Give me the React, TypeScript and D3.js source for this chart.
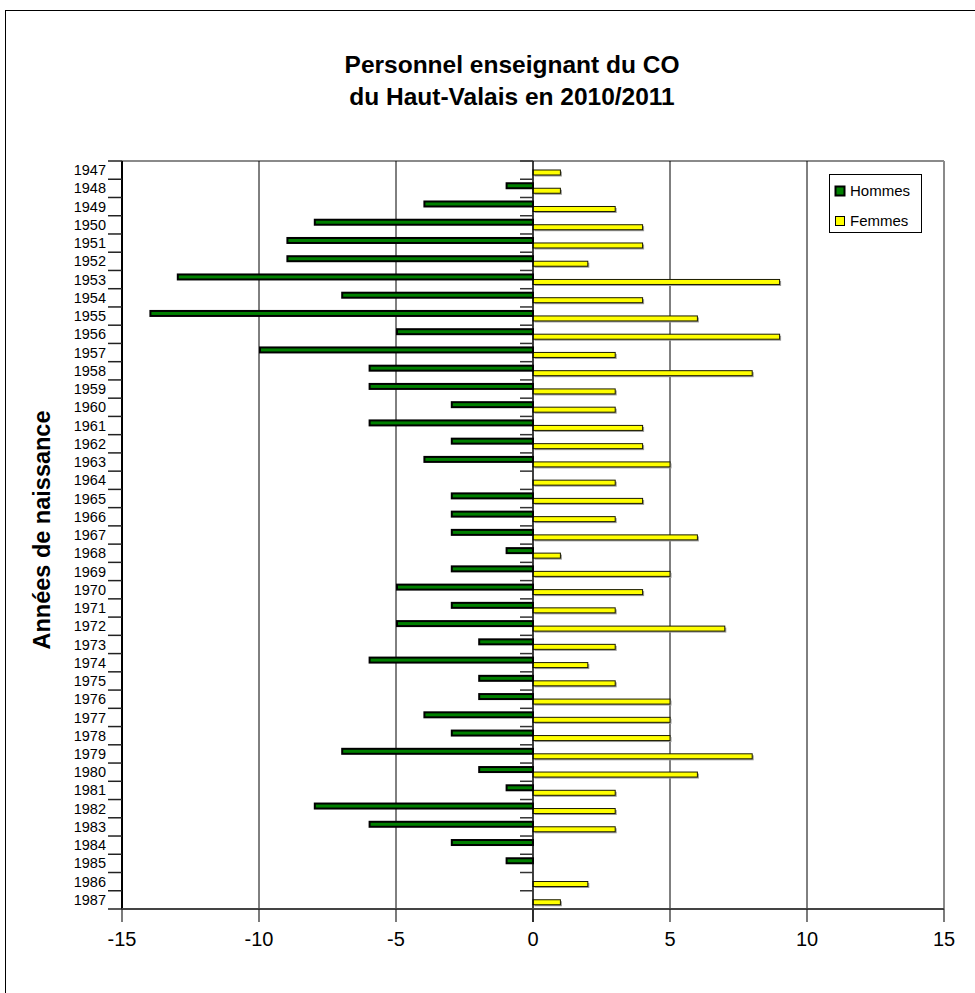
import React from "react";
import * as d3 from "d3";

const years: string[] = [
  "1947","1948","1949","1950","1951","1952","1953","1954","1955","1956",
  "1957","1958","1959","1960","1961","1962","1963","1964","1965","1966",
  "1967","1968","1969","1970","1971","1972","1973","1974","1975","1976",
  "1977","1978","1979","1980","1981","1982","1983","1984","1985","1986","1987",
];

const hommes: number[] = [
  0, -1, -4, -8, -9, -9, -13, -7, -14, -5,
  -10, -6, -6, -3, -6, -3, -4, 0, -3, -3,
  -3, -1, -3, -5, -3, -5, -2, -6, -2, -2,
  -4, -3, -7, -2, -1, -8, -6, -3, -1, 0, 0,
];

const femmes: number[] = [
  1, 1, 3, 4, 4, 2, 9, 4, 6, 9,
  3, 8, 3, 3, 4, 4, 5, 3, 4, 3,
  6, 1, 5, 4, 3, 7, 3, 2, 3, 5,
  5, 5, 8, 6, 3, 3, 3, 0, 0, 2, 1,
];

const xTicks: number[] = [-15, -10, -5, 0, 5, 10, 15];
const titleLines: string[] = ["Personnel enseignant du CO", "du Haut-Valais en 2010/2011"];
const seriesNames: string[] = ["Hommes", "Femmes"];
const seriesColors: string[] = ["#008000", "#FFFF00"];

export default function App() {
  const W = 975;
  const H = 993;
  const left = 122;
  const right = 944;
  const top = 161;
  const bottom = 909;
  const font = "Arial, 'Liberation Sans', Helvetica, sans-serif";

  const x = d3.scaleLinear().domain([-15, 15]).range([left, right]);
  const y = d3.scaleBand<string>().domain(years).range([top, bottom]).paddingInner(0).paddingOuter(0);
  const bw = y.bandwidth();
  const boundaries = d3.range(years.length + 1).map((i) => top + i * bw);

  return (
    <svg
      width={W}
      height={H}
      style={{ position: "absolute", left: 0, top: 0, background: "#fff" }}
      fontFamily={font}
    >
      <rect x={0} y={0} width={W} height={H} fill="#fff" />
      {/* outer chart border */}
      <rect x={5.5} y={10.5} width={1100} height={1100} fill="none" stroke="#000" strokeWidth={1} />

      {/* title */}
      {titleLines.map((t, i) => (
        <text
          key={t}
          x={512}
          y={73 + i * 32}
          textAnchor="middle"
          fontSize={24.5}
          fontWeight="bold"
          fill="#000"
        >
          {t}
        </text>
      ))}

      {/* plot area borders */}
      <line x1={left} x2={right} y1={top} y2={top} stroke="#8a8a8a" strokeWidth={2} />
      <line x1={right} x2={right} y1={top} y2={bottom} stroke="#8a8a8a" strokeWidth={2} />

      {/* gridlines */}
      {xTicks
        .filter((t) => t !== -15 && t !== 15 && t !== 0)
        .map((t) => (
          <line key={"g" + t} x1={x(t)} x2={x(t)} y1={top} y2={bottom} stroke="#000" strokeWidth={1} />
        ))}

      {/* bar shadows */}
      {years.map((yr, i) =>
        femmes[i] !== 0 ? (
          <rect
            key={"fs" + yr}
            x={x(0) + 1.5}
            y={(y(yr) as number) + 10.5}
            width={x(femmes[i]) - x(0)}
            height={5}
            fill="#9a9a9a"
          />
        ) : null
      )}
      {years.map((yr, i) =>
        femmes[i] !== 0 ? (
          <rect
            key={"f" + yr}
            x={x(0)}
            y={(y(yr) as number) + 9}
            width={x(femmes[i]) - x(0)}
            height={5}
            fill={seriesColors[1]}
            stroke="#1a1a00"
            strokeWidth={1}
          />
        ) : null
      )}
      {years.map((yr, i) =>
        hommes[i] !== 0 ? (
          <rect
            key={"h" + yr}
            x={x(hommes[i]) + 1}
            y={(y(yr) as number) + 4}
            width={x(0) - x(hommes[i]) - 1}
            height={5}
            fill={seriesColors[0]}
            stroke="#000"
            strokeWidth={2}
          />
        ) : null
      )}

      {/* zero axis with ticks */}
      <line x1={x(0)} x2={x(0)} y1={top} y2={bottom + 13} stroke="#000" strokeWidth={1.5} />
      {boundaries.map((b, i) => (
        <line key={"zt" + i} x1={x(0) - 13} x2={x(0)} y1={b} y2={b} stroke="#333" strokeWidth={1.5} />
      ))}

      {/* left axis */}
      <line x1={left} x2={left} y1={top} y2={bottom} stroke="#000" strokeWidth={2} />
      {boundaries.map((b, i) => (
        <line key={"lt" + i} x1={left - 14} x2={left} y1={b} y2={b} stroke="#222" strokeWidth={1.5} />
      ))}
      {years.map((yr) => (
        <text
          key={"yl" + yr}
          x={106}
          y={(y(yr) as number) + bw / 2}
          dy="0.35em"
          textAnchor="end"
          fontSize={14.5}
          fill="#000"
        >
          {yr}
        </text>
      ))}

      {/* bottom axis */}
      <line x1={left} x2={right} y1={bottom} y2={bottom} stroke="#444" strokeWidth={2} />
      {xTicks.map((t) => (
        <g key={"xt" + t}>
          <line x1={x(t)} x2={x(t)} y1={bottom} y2={bottom + 13} stroke="#222" strokeWidth={1.2} />
          <text x={x(t)} y={946} textAnchor="middle" fontSize={20} fill="#000">
            {t}
          </text>
        </g>
      ))}

      {/* y-axis title */}
      <text
        transform={`translate(50, 530) rotate(-90)`}
        textAnchor="middle"
        fontSize={23.5}
        fontWeight="bold"
        fill="#000"
      >
        Années de naissance
      </text>

      {/* legend */}
      <rect x={829.5} y={174.5} width={92} height={58} fill="#fff" stroke="#000" strokeWidth={1} />
      {seriesNames.map((n, i) => (
        <g key={n}>
          <rect
            x={835.5}
            y={186.5 + i * 30}
            width={9}
            height={9}
            fill={seriesColors[i]}
            stroke="#000"
            strokeWidth={i === 0 ? 2 : 1}
          />
          <text x={850} y={191 + i * 30} dy="0.35em" fontSize={15} fill="#000">
            {n}
          </text>
        </g>
      ))}
    </svg>
  );
}
